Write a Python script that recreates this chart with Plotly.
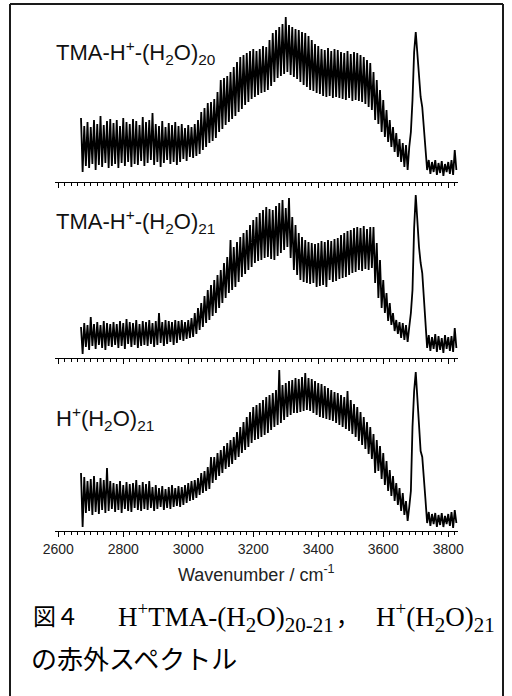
import plotly.graph_objects as go

# Wavenumber grid (cm-1): "hi" samples at 2670,2680,...,3820 ; "lo" samples offset by +5
wn_start = 2670
wn_step = 10

# Panel 1: TMA-H+-(H2O)20  (upper / lower excursions of the noisy trace, arb. units)
p1_hi = [64,56,60,55,62,58,66,57,61,63,
         59,62,56,64,60,58,63,61,57,65,
         60,62,69,58,56,61,55,59,57,60,
         56,58,54,57,55,58,62,70,74,79,
         80,83,90,102,104,106,110,115,120,125,
         127,129,131,133,131,133,136,135,142,149,
         152,155,158,165,157,155,153,152,150,149,
         146,142,138,136,133,132,134,131,133,132,
         130,129,131,128,130,129,127,125,122,119,
         110,102,92,82,72,62,55,49,43,39,
         37,35,82,150,99,75,32,22,20,22,
         19,21,18,20,22,32]
p1_lo = [10,16,14,18,12,17,15,19,14,16,
         18,14,19,16,20,15,18,17,21,16,
         19,22,17,20,15,19,22,18,20,17,
         20,23,21,25,24,26,28,32,35,39,
         41,44,50,53,57,60,63,66,70,73,
         77,80,83,85,87,89,90,92,96,100,
         104,106,108,110,107,105,103,100,97,95,
         92,91,89,88,86,85,86,84,85,84,
         83,82,84,81,82,81,80,78,75,72,
         62,58,50,45,40,35,30,25,20,15,
         12,50,130,125,85,55,12,8,10,7,
         9,6,10,8,7,12]

# Panel 2: TMA-H+-(H2O)21
p2_hi = [31,35,33,41,34,36,33,37,35,34,
         36,34,37,35,39,36,35,38,34,37,
         36,38,35,37,45,36,38,37,36,38,
         37,38,36,38,40,45,50,55,62,68,
         73,78,83,88,95,101,118,111,116,121,
         125,128,133,138,141,145,148,151,149,148,
         152,155,158,150,160,141,133,125,121,118,
         116,115,114,115,117,116,118,117,119,120,
         123,125,127,128,130,131,130,132,129,131,
         131,115,98,78,65,55,45,38,36,35,
         33,31,68,163,111,85,31,23,21,24,
         22,20,23,21,22,30]
p2_lo = [4,11,8,12,9,13,10,8,12,11,
         13,10,12,9,14,11,13,10,12,13,
         12,14,11,13,15,12,14,16,13,15,
         18,17,19,20,21,24,28,31,35,38,
         42,45,50,55,60,65,68,71,76,81,
         84,88,91,95,97,98,100,101,99,98,
         102,105,108,111,100,88,83,78,76,75,
         74,75,71,72,73,71,78,76,77,79,
         80,81,83,85,86,88,87,89,88,90,
         75,60,50,45,37,33,27,24,20,18,
         16,45,130,135,95,60,10,7,9,6,
         8,5,9,7,6,10]

# Panel 3: H+(H2O)21
p3_hi = [58,54,50,52,55,49,53,51,63,50,
         48,47,50,46,49,47,48,51,46,49,
         47,50,44,46,43,45,42,44,46,43,
         45,44,46,48,50,51,53,58,60,64,
         74,74,78,81,85,88,91,94,99,104,
         109,114,119,124,126,128,131,134,136,138,
         141,161,146,148,150,151,153,152,154,158,
         153,152,150,148,147,145,143,141,139,138,
         136,134,140,131,127,124,119,114,109,104,
         97,91,85,78,70,61,55,48,43,38,
         30,24,104,159,104,74,31,19,17,18,
         16,18,15,17,19,21]
p3_lo = [4,18,20,16,19,17,21,18,20,22,
         19,21,18,22,20,19,23,21,20,22,
         21,23,20,22,24,21,23,22,24,25,
         24,26,28,30,31,33,36,38,40,42,
         48,51,55,58,62,64,67,71,74,78,
         81,84,88,91,92,94,96,98,101,104,
         106,108,111,114,116,118,118,119,120,121,
         120,118,116,114,113,112,111,110,108,106,
         104,102,100,97,94,90,86,82,77,72,
         58,60,52,46,40,35,30,26,20,16,
         10,40,140,130,80,55,8,5,7,4,
         6,4,7,5,3,8]

panel_labels = ["TMA-H<sup>+</sup>-(H<sub>2</sub>O)<sub>20</sub>",
                "TMA-H<sup>+</sup>-(H<sub>2</sub>O)<sub>21</sub>",
                "H<sup>+</sup>(H<sub>2</sub>O)<sub>21</sub>"]
x_title = "Wavenumber / cm<sup>-1</sup>"
x_range = [2590, 3830]
tick_vals = [2600, 2800, 3000, 3200, 3400, 3600, 3800]


def interleave(hi, lo):
    xs, ys = [], []
    for i, (h, l) in enumerate(zip(hi, lo)):
        w = wn_start + wn_step * i
        xs += [w, w + wn_step / 2]
        ys += [h, l]
    return xs, ys


W, H = 512, 696
ML, MR, MT, MB = 55, 54, 10, 165
PW, PH = W - ML - MR, H - MT - MB


def px(x):
    return (x - ML) / PW


def py(y):
    return (H - MB - y) / PH


fig = go.Figure()
series = [(p1_hi, p1_lo), (p2_hi, p2_lo), (p3_hi, p3_lo)]
axis_px = [182, 358, 531]
panel_h = 172

for k, (hi, lo) in enumerate(series):
    xs, ys = interleave(hi, lo)
    suffix = "" if k == 0 else str(k + 1)
    fig.add_trace(go.Scatter(x=xs, y=ys, mode="lines",
                             line=dict(color="black", width=1.8),
                             xaxis="x" + suffix, yaxis="y" + suffix,
                             showlegend=False, hoverinfo="skip"))

layout = dict(width=W, height=H, margin=dict(l=ML, r=MR, t=MT, b=MB),
              plot_bgcolor="white", paper_bgcolor="white", showlegend=False)

for k in range(3):
    suffix = "" if k == 0 else str(k + 1)
    bottom = py(axis_px[k])
    top = py(axis_px[k] - panel_h)
    layout["yaxis" + suffix] = dict(domain=[bottom, top], range=[0, panel_h],
                                    visible=False, fixedrange=True)
    layout["xaxis" + suffix] = dict(
        range=x_range, anchor="y" + suffix, showline=True, linecolor="black",
        linewidth=1, ticks="outside", ticklen=5, tickwidth=1, tickcolor="black",
        tickvals=tick_vals, showgrid=False, zeroline=False, fixedrange=True,
        showticklabels=(k == 2),
        tickfont=dict(family="Liberation Sans, Arial", size=14, color="#222"),
        minor=dict(dtick=20, tick0=2600, ticks="outside", ticklen=3,
                   tickwidth=1, tickcolor="black", showgrid=False))

fig.update_layout(**layout)

label_y = [52, 221, 418]
for k in range(3):
    fig.add_annotation(text=panel_labels[k], xref="paper", yref="paper",
                       x=px(54), y=py(label_y[k]), xanchor="left", yanchor="middle",
                       showarrow=False,
                       font=dict(family="Liberation Sans, Arial", size=22, color="#111"))

fig.add_annotation(text=x_title, xref="paper", yref="paper", x=px(256), y=py(573),
                   xanchor="center", yanchor="middle", showarrow=False,
                   font=dict(family="Liberation Sans, Arial", size=18, color="#222"))

serif = dict(family="Liberation Serif, Times New Roman, serif", size=27, color="black")
sub_big = "<sub><span style=\"font-size:21px\">{}</span></sub>"
cap_fig = "図４"
cap_a = ("H<sup>+</sup>TMA-(H" + sub_big.format("2") + "O)" + sub_big.format("20-21"))
cap_comma = "，"
cap_b = "H<sup>+</sup>(H" + sub_big.format("2") + "O)" + sub_big.format("21")
cap2 = "の赤外スペクトル"

fig.add_annotation(text=cap_fig, xref="paper", yref="paper", x=px(31), y=py(615),
                   xanchor="left", yanchor="middle", showarrow=False,
                   font=dict(family="Noto Sans CJK JP", size=23, color="black"))
fig.add_annotation(text=cap_a, xref="paper", yref="paper", x=px(116), y=py(617),
                   xanchor="left", yanchor="middle", showarrow=False, font=serif)
fig.add_annotation(text=cap_comma, xref="paper", yref="paper", x=px(334), y=py(615),
                   xanchor="left", yanchor="middle", showarrow=False,
                   font=dict(family="Noto Sans CJK JP", size=23, color="black"))
fig.add_annotation(text=cap_b, xref="paper", yref="paper", x=px(497), y=py(617),
                   xanchor="right", yanchor="middle", showarrow=False, font=serif)
fig.add_annotation(text=cap2, xref="paper", yref="paper", x=px(29), y=py(657),
                   xanchor="left", yanchor="middle", showarrow=False,
                   font=dict(family="Noto Sans CJK JP", size=26, color="black"))

# outer frame (left, top, right; open at the bottom)
bx0, bx1, by0, by1 = px(10), px(503), py(4), py(710)
for (x0, y0, x1, y1) in [(bx0, by1, bx0, by0), (bx0, by0, bx1, by0), (bx1, by0, bx1, by1)]:
    fig.add_shape(type="line", xref="paper", yref="paper", x0=x0, y0=y0, x1=x1, y1=y1,
                  line=dict(color="#1a1a1a", width=2))

fig.write_html("out.html", config={"displayModeBar": False},
               post_script="document.body.style.margin='0';")
